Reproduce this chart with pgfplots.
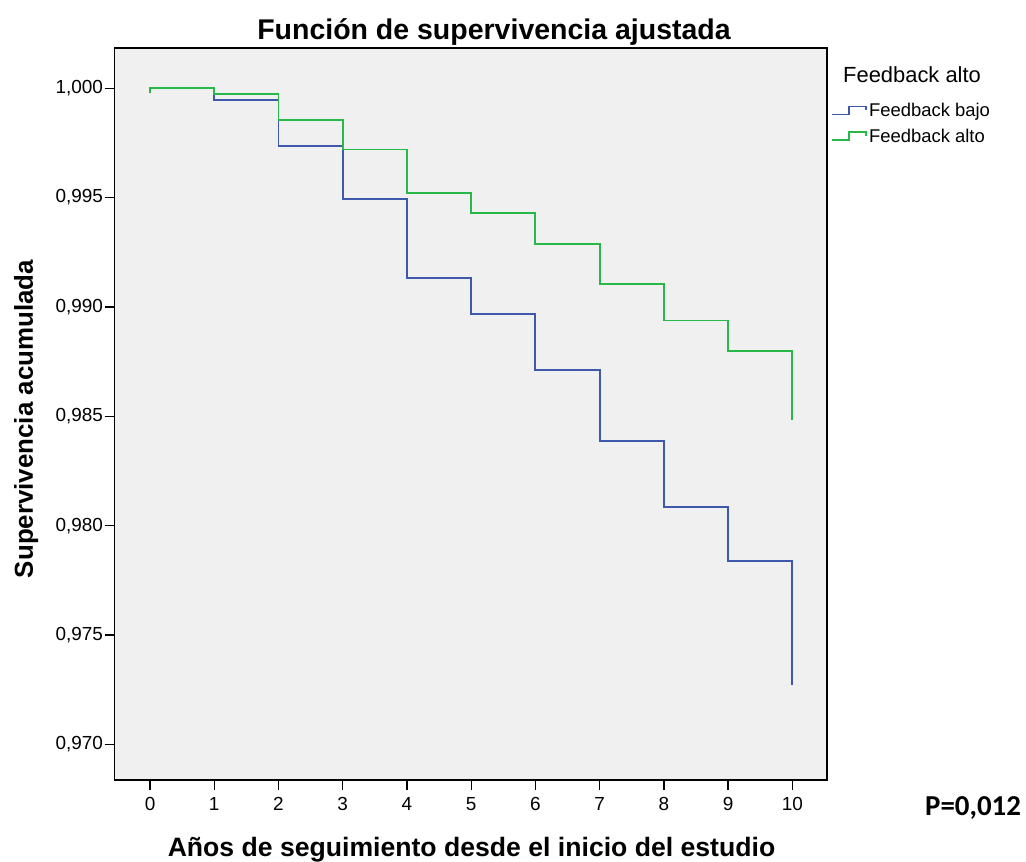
\documentclass[border=0pt]{standalone}
\usepackage{pgfplots}
\pgfplotsset{compat=1.18}
\usepackage{fontspec}
\setmainfont{Liberation Sans}
\newfontfamily\pfont{Carlito}
\definecolor{kmblue}{RGB}{62,88,172}
\definecolor{kmgreen}{RGB}{40,184,72}
\definecolor{bgray}{RGB}{240,240,240}
\begin{document}
\begin{tikzpicture}
\begin{axis}[
  at={(0,0)}, anchor=south west,
  scale only axis, width=712.3bp, height=732bp,
  xmin=-0.55, xmax=10.54, ymin=0.96837, ymax=1.00184,
  axis background/.style={fill=bgray},
  axis line style={line width=1.3bp, black},
  tick style={line width=1.3bp, black},
  tick align=outside, major tick length=10bp,
  xtick pos=bottom, ytick pos=left,
  xtick={0,1,2,3,4,5,6,7,8,9,10},
  ytick={0.970,0.975,0.980,0.985,0.990,0.995,1.000},
  scaled y ticks=false,
  /pgf/number format/assume math mode=true,
  ticklabel style={font=\fontsize{19}{21}\selectfont, inner sep=1bp},
  yticklabel style={xshift=-0.5bp, /pgf/number format/.cd, fixed, fixed zerofill, precision=3, use comma},
  xticklabel style={yshift=-6bp},
  legend style={at={(rel axis cs:1.006,0.928)}, anchor=north west, draw=none, fill=none,
    font=\fontsize{18.5}{20}\selectfont, row sep=7bp, inner sep=0pt,
    /tikz/every even column/.append style={column sep=1bp}},
  legend cell align=left,
  legend image code/.code={\draw[#1, line width=1.6bp] (0bp,-4bp) -- (17bp,-4bp) -- (17bp,4bp) -- (34bp,4bp) -- (34bp,0bp);},
]
\addplot[const plot, color=kmblue, line width=1.9bp] coordinates {
(0,0.99977)(0,1.0)(1,0.99948)(2,0.99735)(3,0.99492)(4,0.99134)(5,0.98968)(6,0.98712)(7,0.98389)(8,0.98085)(9,0.97840)(10,0.97270)};
\addlegendentry{Feedback bajo}
\addplot[const plot, color=kmgreen, line width=1.9bp] coordinates {
(0,0.99980)(0,1.0)(1,0.99973)(2,0.99854)(3,0.99720)(4,0.99521)(5,0.99428)(6,0.99287)(7,0.99105)(8,0.98938)(9,0.98798)(10,0.98482)};
\addlegendentry{Feedback alto}
\end{axis}
\node[anchor=base, font=\fontsize{28.6}{30}\selectfont\bfseries] at (379.3bp,740bp) {Función de supervivencia ajustada};
\node[anchor=base, font=\fontsize{26.7}{28}\selectfont\bfseries] at (356.8bp,-76bp) {Años de seguimiento desde el inicio del estudio};
\node[anchor=base, rotate=90, font=\fontsize{26}{28}\selectfont\bfseries] at (-81.7bp,361bp) {Supervivencia acumulada};
\node[anchor=base west, inner sep=0pt, font=\fontsize{22}{24}\selectfont] at (728.3bp,697bp) {Feedback alto};
\node[anchor=base west, inner sep=0pt, font=\fontsize{29}{31}\selectfont\pfont\bfseries] at (810.3bp,-35bp) {P=0,012};
\pgfresetboundingbox
\useasboundingbox (-114.7bp,-82bp) rectangle (911.3bp,780bp);
\end{tikzpicture}
\end{document}
